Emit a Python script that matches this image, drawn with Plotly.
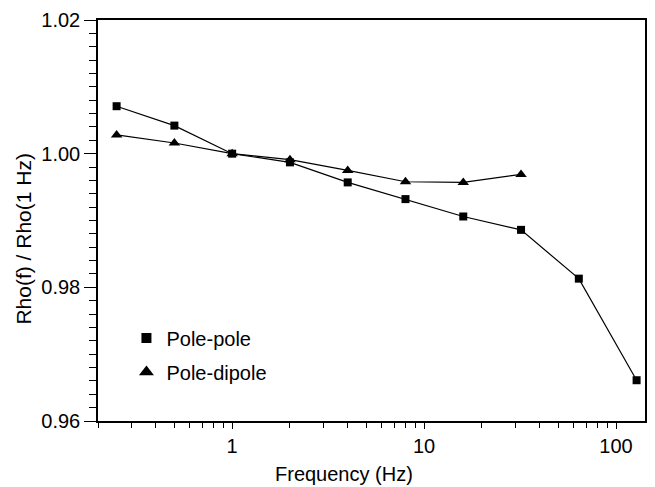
import plotly.graph_objects as go

freq_pp = [0.25, 0.5, 1, 2, 4, 8, 16, 32, 64, 128]
rho_pp = [1.0071, 1.0042, 1.0000, 0.9987, 0.9957, 0.9932, 0.9906, 0.9886, 0.9813, 0.9661]

freq_pd = [0.25, 0.5, 1, 2, 4, 8, 16, 32]
rho_pd = [1.0028, 1.0016, 1.0000, 0.9991, 0.9975, 0.9958, 0.9957, 0.9969]

names = ["Pole-pole", "Pole-dipole"]
x_tickvals = [1, 10, 100]
x_ticktext = ["1", "10", "100"]
x_minor = [0.2, 0.3, 0.4, 0.5, 0.6, 0.7, 0.8, 0.9,
           2, 3, 4, 5, 6, 7, 8, 9,
           20, 30, 40, 50, 60, 70, 80, 90]
y_tickvals = [0.96, 0.98, 1.00, 1.02]

FONT = "Liberation Sans, Arial, sans-serif"

fig = go.Figure()
fig.add_trace(go.Scatter(x=freq_pp, y=rho_pp, mode="lines+markers", showlegend=False,
                         line=dict(color="black", width=1.2),
                         marker=dict(symbol="square", size=8, color="black")))
fig.add_trace(go.Scatter(x=freq_pd, y=rho_pd, mode="lines+markers", showlegend=False,
                         line=dict(color="black", width=1.2),
                         marker=dict(symbol="triangle-up", size=10, color="black")))
# legend entries (markers only)
fig.add_trace(go.Scatter(x=[None], y=[None], mode="markers", name=names[0], legend="legend",
                         marker=dict(symbol="square", size=10, color="black")))
fig.add_trace(go.Scatter(x=[None], y=[None], mode="markers", name=names[1], legend="legend2",
                         marker=dict(symbol="triangle-up", size=13, color="black")))

fig.update_layout(
    width=655, height=487,
    margin=dict(l=98, r=8, t=20, b=66),
    paper_bgcolor="white", plot_bgcolor="white",
    font=dict(family=FONT, size=20, color="black"),
    legend=dict(x=0.052, y=0.207, xanchor="left", yanchor="middle",
                bgcolor="rgba(0,0,0,0)", font=dict(size=20)),
    legend2=dict(x=0.052, y=0.122, xanchor="left", yanchor="middle",
                 bgcolor="rgba(0,0,0,0)", font=dict(size=20)),
    annotations=[
        dict(text="Frequency (Hz)", xref="paper", yref="paper", x=0.45, y=-0.132,
             xanchor="center", yanchor="middle", showarrow=False, font=dict(size=20)),
        dict(text="Rho(f) / Rho(1 Hz)", xref="paper", yref="paper", x=-0.137, y=0.455,
             xanchor="center", yanchor="middle", showarrow=False, textangle=-90,
             font=dict(size=21)),
    ],
)
fig.update_xaxes(type="log", range=[-0.699, 2.151],
                 tickmode="array", tickvals=x_tickvals, ticktext=x_ticktext,
                 ticks="outside", ticklen=6, tickwidth=1, tickcolor="black",
                 minor=dict(tickmode="array", tickvals=x_minor, ticks="outside",
                            ticklen=5, tickwidth=1, tickcolor="black", showgrid=False),
                 showline=True, linecolor="black", linewidth=1.5, mirror=True,
                 showgrid=False, zeroline=False)
fig.update_yaxes(range=[0.96, 1.02], tickmode="array", tickvals=y_tickvals,
                 tickformat=".2f",
                 ticks="outside", ticklen=12, tickwidth=1, tickcolor="black",
                 minor=dict(dtick=0.002, tick0=0.96, ticks="outside", ticklen=7,
                            tickwidth=1, tickcolor="black", showgrid=False),
                 showline=True, linecolor="black", linewidth=1.5, mirror=True,
                 showgrid=False, zeroline=False)

fig.write_html("out.html")
